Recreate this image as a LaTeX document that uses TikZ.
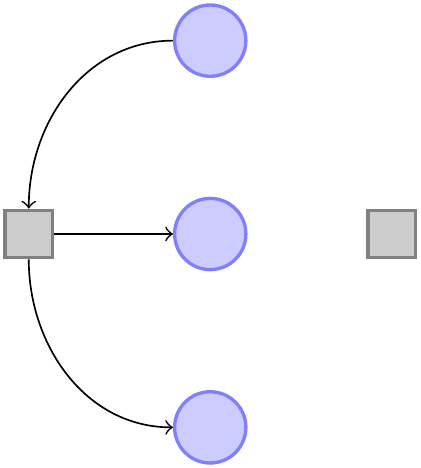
\documentclass[tikz,border=0pt]{standalone}
\usetikzlibrary{positioning}

\tikzset{
  place/.style={circle, draw=blue!50, fill=blue!20, thick, inner sep=0pt, minimum size=6mm},
  transition/.style={rectangle, draw=black!50, fill=black!20, thick, inner sep=0pt, minimum size=4mm}
}

\begin{document}
\begin{tikzpicture}[node distance=1cm]
\node  (waiting)[place]  {};
\node  (critical)[place] [below=of waiting] {};
\node  (semaphore)[place] [below=of critical] {};
\node  (leave)[transition] [right=of critical] {};
\node  (enter)[transition] [left=of critical] {};
\draw[->] (waiting) to[out=180, in=90] (enter);
\draw[->] (enter) -- (critical);
\draw[->] (enter) to[out=270, in=180] (semaphore);
\useasboundingbox ([shift={(-0.8pt,0.8pt)}]enter.west |- waiting.north) rectangle ([shift={(0.8pt,-0.8pt)}]leave.east |- semaphore.south);
\end{tikzpicture}
\end{document}
